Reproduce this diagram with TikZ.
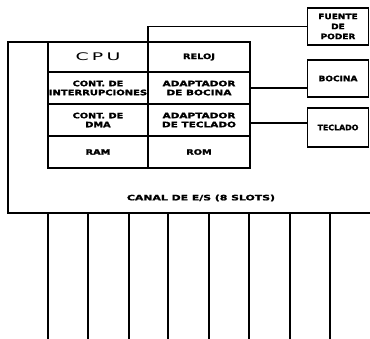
\documentclass[tikz,border=0pt]{standalone}
\usepackage{fontspec}
\usepackage{graphicx}
\newfontfamily\plotfont{DejaVu Sans}[BoldFeatures={FakeBold=1.5}]
\newcommand\wide[2][1.3]{\scalebox{#1}[1]{#2}}
\begin{document}
\begin{tikzpicture}[x=1pt,y=-1pt,
  lbl/.style={font=\plotfont\bfseries\fontsize{7.5}{9}\selectfont,align=center},
  cell/.style={lbl,draw,line width=1.6pt,minimum width=100pt,minimum height=32pt,inner sep=0pt,outer sep=0pt},
  dev/.style={lbl,draw,line width=1.5pt,minimum width=61pt,minimum height=37pt,inner sep=0pt,outer sep=0pt},
  wire/.style={line width=1.5pt},
  slot/.style={line width=2pt}]
\useasboundingbox (0,0) rectangle (370,339);
% processor block
\node[cell,minimum height=30pt,font=\plotfont\fontsize{10.5}{12}\selectfont] (cpu) at (98,57) {\wide[1.8]{C\,P\,U}};
\node[cell,minimum height=30pt,minimum width=102pt] (reloj) at (199,57) {\wide{RELOJ}};
\node[cell] (inter) at (98,88) {\wide{CONT. DE}\\\wide[1.33]{INTERRUPCIONES}};
\node[cell,minimum width=102pt] (adb) at (199,88) {\wide[1.4]{ADAPTADOR}\\\wide[1.4]{DE BOCINA}};
\node[cell] (dma) at (98,120) {\wide{CONT. DE}\\\wide{DMA}};
\node[cell,minimum width=102pt] (adt) at (199,120) {\wide[1.4]{ADAPTADOR}\\\wide[1.4]{DE TECLADO}};
\node[cell] (ram) at (98,152) {\wide{RAM}};
\node[cell,minimum width=102pt] (rom) at (199,152) {\wide{ROM}};
% devices
\node[dev] (fuente) at (338,26.5) {\wide[1.2]{FUENTE}\\[1pt]\wide[1.2]{DE}\\[1pt]\wide[1.2]{PODER}};
\node[dev] (bocina) at (338,78.5) {\wide[1.2]{BOCINA}};
\node[dev,minimum height=39pt] (teclado) at (338,127.5) {\wide[1.05]{TECLADO}};
% board outline
\coordinate (tl) at (8,42);
\coordinate (bl) at (8,213);
\coordinate (br) at (370,213);
\draw[wire,line width=1.7pt,line join=miter] (cpu.north west) -- (tl) -- (bl) -- (br);
\node[lbl] (canal) at (201,198) {\wide[1.45]{CANAL DE E/S (8 SLOTS)}};
% connectors
\draw[wire] (reloj.north west) |- (fuente.west);
\draw[wire] (adb.east) -- (adb.east -| bocina.west);
\draw[wire] ([yshift=-3pt]adt.east) -- ([yshift=-3pt]adt.east -| teclado.west);
% slots
\foreach \i/\x in {1/48,2/88,3/129,4/168,5/209,6/249,7/290,8/330}{
  \coordinate (s\i) at (\x,213);
  \draw[slot] (s\i) -- ++(0,126);
}
\end{tikzpicture}
\end{document}
